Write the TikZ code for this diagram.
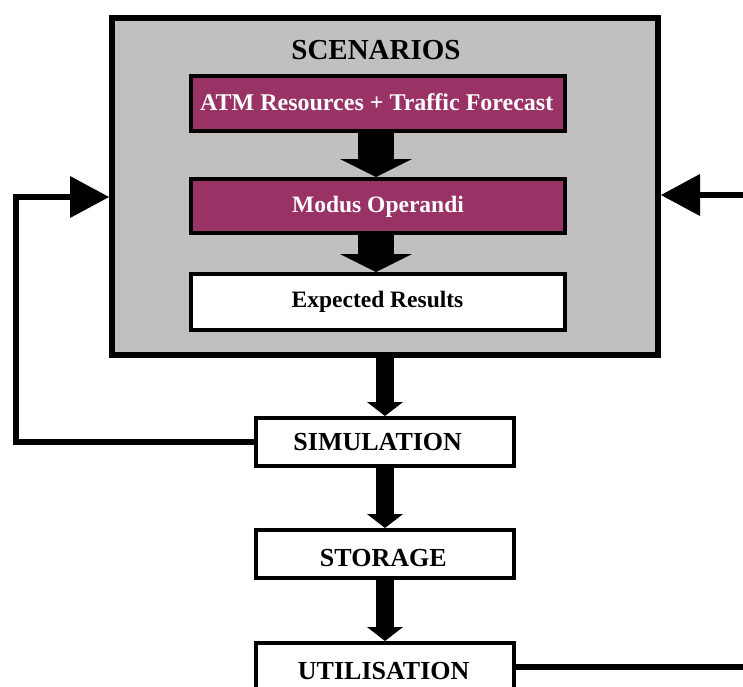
\documentclass[tikz,border=0pt]{standalone}
\usepackage{fontspec}
\setmainfont{Liberation Serif}
\usetikzlibrary{arrows.meta}
\definecolor{plum}{HTML}{993366}
\definecolor{panelgray}{HTML}{C0C0C0}
\tikzset{
  panel/.style={draw, line width=6pt, fill=panelgray, inner sep=0pt},
  plumbox/.style={draw, line width=4pt, fill=plum, inner sep=0pt, minimum width=374pt},
  whitebox/.style={draw, line width=4pt, fill=white, inner sep=0pt},
  lbl/.style={anchor=base, inner sep=0pt, font=\bfseries\fontsize{#1}{#1}\selectfont},
  bigarrow/.style={line width=36pt, -{Triangle[width=72pt,length=18pt,line width=0pt]}},
  midarrow/.style={line width=18pt, -{Triangle[width=36pt,length=14pt,line width=0pt]}},
  loopline/.style={line width=6pt},
  looparrow/.style={line width=6pt, -{Triangle[width=42pt,length=39pt,line width=0pt]}}
}
\begin{document}
\begin{tikzpicture}[x=1pt,y=-1pt]
\useasboundingbox (0,0) rectangle (743,686);

% scenario panel and its inner stages
\node[panel, minimum width=546pt, minimum height=337pt] (scen) at (385,186.5) {};
\node[lbl=29] (scentitle) at (376,59) {SCENARIOS};
\node[plumbox, minimum height=55pt] (atm) at (377.5,103.5) {};
\node[plumbox, minimum height=54pt] (mo) at (377.5,206) {};
\node[whitebox, minimum width=374pt, minimum height=56pt] (exp) at (377.5,302) {};
\node[lbl=24, text=white] (atmtxt) at (376.7,110.5) {ATM Resources + Traffic Forecast};
\node[lbl=23.5, text=white] (motxt) at (378,212.3) {Modus Operandi};
\node[lbl=23.5] (exptxt) at (377.5,307.3) {Expected Results};

% downstream stages
\node[whitebox, minimum width=258pt, minimum height=48pt] (sim) at (385,442) {};
\node[whitebox, minimum width=258pt, minimum height=48pt] (sto) at (385,554) {};
\node[whitebox, minimum width=258pt, minimum height=48pt] (util) at (385,667) {};
\node[lbl=26] (simtxt) at (377.7,450) {SIMULATION};
\node[lbl=26] (stotxt) at (383.3,566.7) {STORAGE};
\node[lbl=26] (utiltxt) at (383.7,679.7) {UTILISATION};

% block arrows
\coordinate (ax) at (376,0);
\draw[bigarrow] (atm.south -| ax) -- (mo.north -| ax);
\draw[bigarrow] (mo.south -| ax) -- (exp.north -| ax);
\draw[midarrow] (scen.south) -- (sim.north);
\draw[midarrow] (sim.south) -- (sto.north);
\draw[midarrow] (sto.south) -- (util.north);

% feedback loops
\coordinate (fbl) at (16,197);
\coordinate (fbr) at (746,195);
\coordinate (outr) at (746,667);
\draw[looparrow] (sim.west) -| (fbl) -- (fbl -| scen.west);
\draw[looparrow] (fbr) -- (fbr -| scen.east);
\draw[loopline] (util.east) -- (outr);
\end{tikzpicture}
\end{document}
